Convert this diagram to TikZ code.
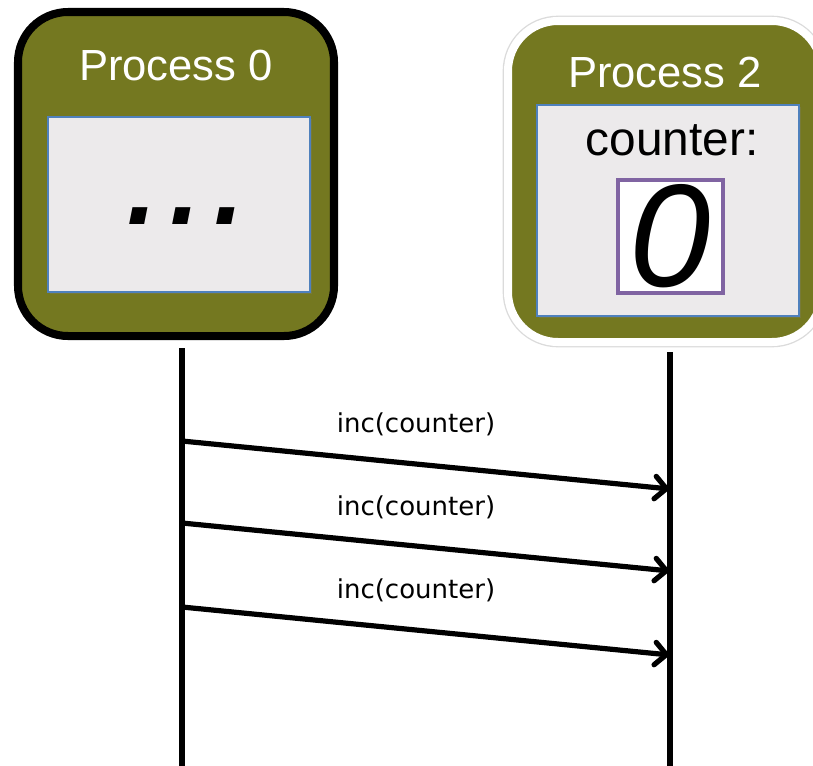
\documentclass[tikz,border=0pt]{standalone}
\usepackage{fontspec}
\setmainfont{Liberation Sans}
\newfontfamily\dejavu{DejaVu Sans}
\usepackage{tikz}
\usetikzlibrary{arrows.meta,positioning,shadows}
\definecolor{olive}{RGB}{116,120,32}
\definecolor{paleback}{RGB}{236,234,235}
\definecolor{edgeblue}{RGB}{79,129,189}
\definecolor{varpurple}{RGB}{128,100,162}

\begin{document}
\begin{tikzpicture}[>={Straight Barb[length=8pt,width=16pt,line cap=round]}]
\tikzset{
  proc/.style={fill=olive, rounded corners=1.25cm, minimum width=7.9cm, minimum height=8.1cm, line width=5.7pt},
  mem/.style={draw=edgeblue, line width=0.9pt, fill=paleback, minimum width=6.55cm, drop shadow={shadow xshift=1.5pt, shadow yshift=-1.5pt, opacity=.25}},
  ptitle/.style={text=white, font=\fontsize{31}{36}\selectfont},
  life/.style={line width=3.7pt},
  msg/.style={->, line width=3.7pt},
  lbl/.style={font=\dejavu\fontsize{18.5}{22}\selectfont}
}
\useasboundingbox (0,0) rectangle (20.325,-19.125);
% process 0
\node[proc, draw=black] (p0) at (4.4,-4.35) {};
\node[ptitle] (t0) at (4.4,-1.625) {Process 0};
\node[mem, minimum height=4.375cm] (m0) at (4.475,-5.1125) {};
\node[anchor=base, font=\itshape\fontsize{112}{112}\selectfont] (dots) at (4.72,-5.6) {...};
% process 2
\node[proc, draw=white, minimum width=7.85cm, minimum height=8.025cm, preaction={draw=black!14, line width=7.6pt}, drop shadow={shadow xshift=1.5pt, shadow yshift=-1.5pt, opacity=.2}] (p2) at (16.625,-4.5375) {};
\node[ptitle] (t2) at (16.625,-1.8) {Process 2};
\node[mem, minimum height=5.275cm] (m2) at (16.7,-5.2625) {};
\node[font=\fontsize{34}{38}\selectfont] (cnt) at (16.8,-3.5) {counter:};
\node[draw=varpurple, line width=2.4pt, fill=white, minimum width=2.625cm, minimum height=2.825cm] (val) at (16.76,-5.9125) {};
\node[font=\itshape\fontsize{104}{104}\selectfont] (zero) at (val.center) {0};
% lifelines
\coordinate (l0) at (4.55,-8.7);
\coordinate (e0) at (4.55,-19.2);
\coordinate (l2) at (16.75,-8.8);
\coordinate (e2) at (16.75,-19.2);
\draw[life] (l0) -- (e0);
\draw[life] (l2) -- (e2);
% messages
\coordinate (s1) at (4.55,-11.025);
\coordinate (r1) at (16.75,-12.225);
\coordinate (s2) at (4.55,-13.075);
\coordinate (r2) at (16.75,-14.275);
\coordinate (s3) at (4.55,-15.175);
\coordinate (r3) at (16.75,-16.375);
\draw[msg] (s1) -- (r1);
\draw[msg] (s2) -- (r2);
\draw[msg] (s3) -- (r3);
\node[lbl] (i1) at (10.4,-10.6) {inc(counter)};
\node[lbl] (i2) at (10.4,-12.675) {inc(counter)};
\node[lbl] (i3) at (10.4,-14.75) {inc(counter)};
\end{tikzpicture}
\end{document}
